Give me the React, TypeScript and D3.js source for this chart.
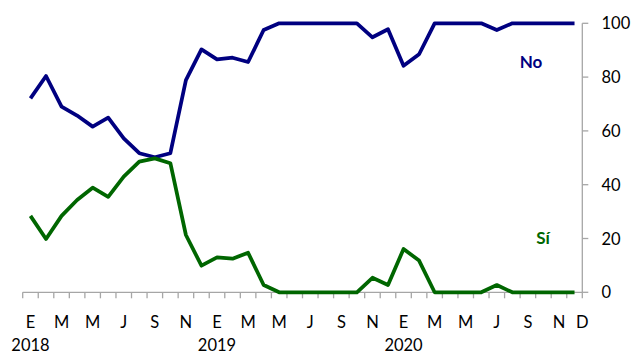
import React from "react";
import * as d3 from "d3";

const months: string[] = [];
for (let y = 2018; y <= 2020; y++) for (let m = 1; m <= 12; m++) months.push(`${y}-${String(m).padStart(2, "0")}`);

const noValues = [72.1, 80.4, 69.0, 65.7, 61.6, 64.9, 57.2, 51.7, 50.2, 51.7, 78.9, 90.3, 86.6, 87.2, 85.6, 97.5, 100, 100, 100, 100, 100, 100, 94.8, 97.8, 84.2, 88.5, 100, 100, 100, 100, 97.5, 100, 100, 100, 100, 100];
const siValues = [28.4, 19.8, 28.4, 34.3, 38.9, 35.5, 43.0, 48.6, 49.8, 48.0, 21.3, 9.9, 13.0, 12.5, 14.7, 2.7, 0, 0, 0, 0, 0, 0, 5.4, 2.7, 16.1, 11.8, 0, 0, 0, 0, 2.7, 0, 0, 0, 0, 0];

const monthLetters = ["E", "F", "M", "A", "M", "J", "J", "A", "S", "O", "N", "D"];
const yTicks = [0, 20, 40, 60, 80, 100];
const years = ["2018", "2019", "2020"];
const seriesLabels = ["No", "Sí"];

const W = 641, H = 354;
const left = 22.7, right = 582.3, top = 23.3, bottom = 292.3;
const font = "Lato, 'Open Sans', sans-serif";
const axisColor = "#a6a6a6";
const noColor = "#000080";
const siColor = "#006600";
const fs = 16.5;

export default function App() {
  const x = d3.scaleBand<string>().domain(months).range([left, right]).padding(0);
  const bw = x.bandwidth();
  const cx = (i: number) => (x(months[i]) as number) + bw / 2;
  const y = d3.scaleLinear().domain([0, 100]).range([bottom, top]);
  const line = d3.line<number>().x((_, i) => cx(i)).y((d) => y(d));

  const boundaries = months.map((m) => x(m) as number).concat([right]);
  const xLabels = months
    .map((m, i) => ({ i, letter: monthLetters[i % 12] }))
    .filter((d) => d.i % 2 === 0 || d.i === months.length - 1);

  return (
    <svg width={W} height={H} style={{ position: "absolute", left: 0, top: 0 }} fontFamily={font}>
      <rect width={W} height={H} fill="#fff" />
      <line x1={left} x2={right} y1={bottom} y2={bottom} stroke={axisColor} strokeWidth={1.3} />
      {boundaries.map((b, k) => (
        <line key={k} x1={b} x2={b} y1={bottom} y2={bottom + 6} stroke={axisColor} strokeWidth={1.3} />
      ))}
      <line x1={right} x2={right} y1={top} y2={bottom} stroke={axisColor} strokeWidth={1.3} />
      {yTicks.map((t) => (
        <g key={t}>
          <line x1={right} x2={right + 6} y1={y(t)} y2={y(t)} stroke={axisColor} strokeWidth={1.3} />
          <text x={601.5} y={y(t)} dominantBaseline="central" fontSize={fs} fill="#000">{t}</text>
        </g>
      ))}
      {xLabels.map((d) => (
        <text key={d.i} x={d.i === months.length - 1 ? right : cx(d.i)} y={322} textAnchor="middle" dominantBaseline="central" fontSize={fs} fill="#000">
          {d.letter}
        </text>
      ))}
      {years.map((yr, k) => (
        <text key={yr} x={cx(k * 12)} y={345} textAnchor="middle" dominantBaseline="central" fontSize={fs} fill="#000">{yr}</text>
      ))}
      <path d={line(noValues) || ""} fill="none" stroke={noColor} strokeWidth={3.75} strokeLinejoin="round" />
      <path d={line(siValues) || ""} fill="none" stroke={siColor} strokeWidth={3.75} strokeLinejoin="round" />
      <text x={531} y={61} textAnchor="middle" dominantBaseline="central" fontSize={17} fontWeight="bold" fill={noColor}>{seriesLabels[0]}</text>
      <text x={543} y={237} textAnchor="middle" dominantBaseline="central" fontSize={17} fontWeight="bold" fill={siColor}>{seriesLabels[1]}</text>
    </svg>
  );
}
